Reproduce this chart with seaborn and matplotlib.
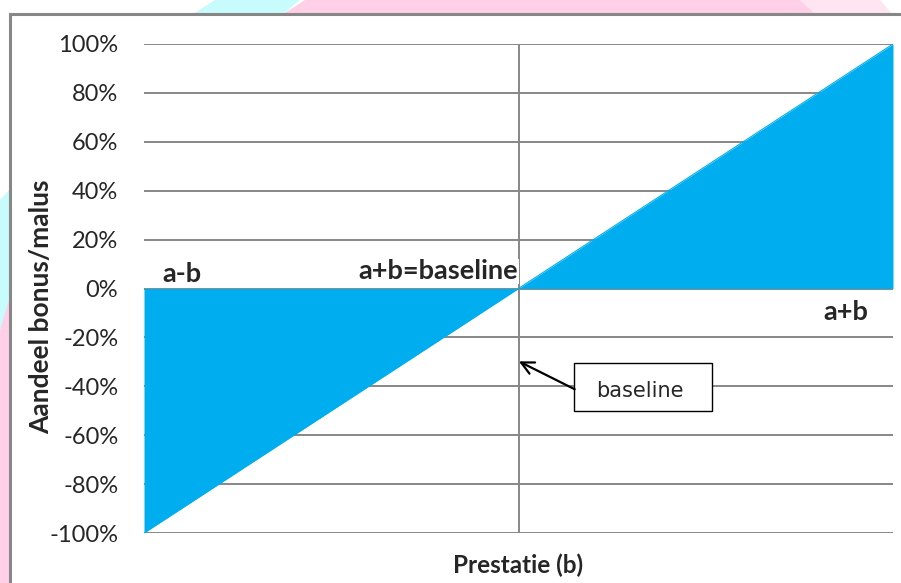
import numpy as np
import pandas as pd
import seaborn as sns
import matplotlib
matplotlib.use("Agg")
from matplotlib import pyplot as plt
from matplotlib.patches import Polygon, Rectangle
from matplotlib.ticker import PercentFormatter


# # Data

prestatie = [-1.0, 0.0, 1.0]
aandeel = [-1.0, 0.0, 1.0]
yticks = [-1.0, -0.8, -0.6, -0.4, -0.2, 0.0, 0.2, 0.4, 0.6, 0.8, 1.0]

df = pd.DataFrame({"Prestatie": prestatie, "Aandeel": aandeel})

# # Style

sns.set_style("white")
plt.rcParams["font.family"] = ["Lato", "DejaVu Sans"]
plt.rcParams["axes.unicode_minus"] = False

blue = "#00AEEF"
grey = "#878787"

W, H = 901, 583
fig = plt.figure(figsize=(W / 100, H / 100), dpi=100)

# pastel background shapes outside the chart frame (pixel coords)
def px(points):
    return [(x / W, 1 - y / H) for x, y in points]

bg = [
    ([(193, 14), (215, 0), (300, 0), (283, 14)], "#C8FBFB"),
    ([(283, 14), (305, 0), (800, 0), (820, 14)], "#FFD0E8"),
    ([(815, 14), (800, 0), (880, 0), (892, 14)], "#FFE4F1"),
    ([(0, 200), (9, 190), (9, 310), (0, 330)], "#C8FBFB"),
    ([(0, 330), (9, 300), (9, 583), (0, 583)], "#FFD0E8"),
]
for pts, col in bg:
    fig.patches.append(Polygon(px(pts), closed=True, facecolor=col,
                               edgecolor="none", transform=fig.transFigure, zorder=-2))

# chart frame
fig.patches.append(Rectangle((9.5 / W, -0.1), 1, 1.1 - 14.5 / H, facecolor="white",
                             edgecolor=grey, linewidth=2.2,
                             transform=fig.transFigure, zorder=-1))

ax = fig.add_axes([144 / W, 1 - 533 / H, (893 - 144) / W, (533 - 44) / H])
ax.set_zorder(1)
ax.set_facecolor("none")

# # Plot

ax.fill_between(df["Prestatie"], df["Aandeel"], 0, color=blue, linewidth=0, zorder=2)
sns.lineplot(data=df, x="Prestatie", y="Aandeel", color=blue, linewidth=0.8, ax=ax, zorder=2)

for y in yticks:
    ax.axhline(y, color=grey, linewidth=1.4, zorder=1)
ax.axvline(0, color=grey, linewidth=1.4, zorder=1)

ax.set_xlim(-1, 1)
ax.set_ylim(-1, 1)
ax.set_yticks(yticks)
ax.yaxis.set_major_formatter(PercentFormatter(1.0, decimals=0))
ax.set_xticks([])
ax.tick_params(axis="y", length=0, pad=18.5, labelsize=17)
for s in ax.spines.values():
    s.set_visible(False)

ax.set_xlabel("Prestatie (b)", fontsize=17.5, weight="bold")
ax.xaxis.set_label_coords(0.4995, -0.042)
ax.set_ylabel("Aandeel bonus/malus", fontsize=19, weight="bold")
ax.yaxis.set_label_coords(-0.121, 0.463)

# # Annotations

ax.text(-0.952, 0.06, "a-b", fontsize=19.5, weight="bold", va="center", ha="left", zorder=3)
ax.text(-0.002, 0.07, "a+b=baseline", fontsize=19.5, weight="bold", va="center", ha="right",
        zorder=3, bbox=dict(facecolor="white", edgecolor="none", pad=0.5))
ax.text(0.874, -0.095, "a+b", fontsize=19.5, weight="bold", va="center", ha="center", zorder=3)

# callout box with arrow
ax.add_patch(Rectangle((0.148, -0.502), 0.369, 0.196, facecolor="white",
                       edgecolor="black", linewidth=1, zorder=4))
ax.text(0.324, -0.42, "baseline", fontsize=15, family="DejaVu Sans",
        ha="center", va="center", zorder=5)
ax.annotate("", xy=(0.001, -0.298), xytext=(0.150, -0.412), zorder=4,
            arrowprops=dict(arrowstyle="->,head_length=0.9,head_width=0.45",
                            color="black", linewidth=1.6, shrinkA=0, shrinkB=0))

fig.savefig("out.png", dpi=100)
